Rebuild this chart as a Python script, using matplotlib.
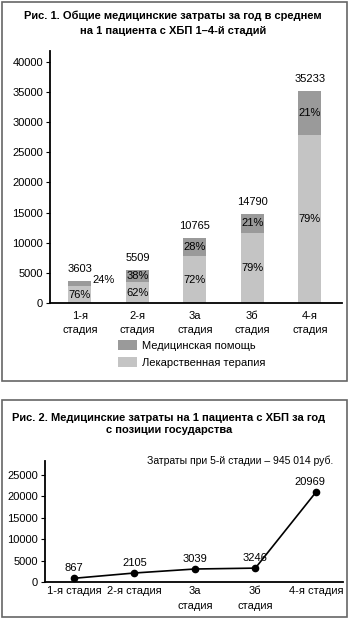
"""Two-panel cost figure: stacked bars by CKD stage and per-patient state costs."""

import matplotlib
matplotlib.use("Agg")
import matplotlib.pyplot as plt
from matplotlib.patches import Rectangle

# Fig. 1: total yearly medical costs per patient, by stage
STAGES_1 = ["1-я\nстадия", "2-я\nстадия", "3а\nстадия", "3б\nстадия", "4-я\nстадия"]
TOTALS = [3603, 5509, 10765, 14790, 35233]
DRUG_PCT = [76, 62, 72, 79, 79]
CARE_PCT = [24, 38, 28, 21, 21]

# Fig. 2: state costs per patient per year
STAGES_2 = ["1-я стадия", "2-я стадия", "3а\nстадия", "3б\nстадия", "4-я стадия"]
STATE_COST = [867, 2105, 3039, 3246, 20969]

DARK = "#9a9a9a"
LIGHT = "#c4c4c4"
W, H = 350, 620


def fx(px):
    return px / W


def fy(py):
    return 1 - py / H


def style_axes(ax):
    ax.spines["top"].set_visible(False)
    ax.spines["right"].set_visible(False)
    ax.spines["left"].set_linewidth(1.3)
    ax.spines["bottom"].set_linewidth(1.3)
    ax.tick_params(axis="x", length=0, labelsize=8)
    ax.tick_params(axis="y", length=3, width=0.8, labelsize=8, pad=2)


def plot_bars(fig):
    ax = fig.add_axes([fx(50), fy(303), fx(292), (303 - 51) / H])
    x = list(range(len(STAGES_1)))
    drug = [t * p / 100 for t, p in zip(TOTALS, DRUG_PCT)]
    care = [t - d for t, d in zip(TOTALS, drug)]

    b_care = ax.bar(x, care, bottom=drug, width=0.4, color=DARK, label="Медицинская помощь")
    b_drug = ax.bar(x, drug, width=0.4, color=LIGHT, label="Лекарственная терапия")

    for i in x:
        ax.annotate(str(TOTALS[i]), (i, TOTALS[i]), xytext=(0, 8.5),
                    textcoords="offset points", ha="center", va="center", fontsize=8)
        ax.text(i, drug[i] / 2, f"{DRUG_PCT[i]}%", ha="center", va="center", fontsize=8)
        if i == 0:
            # the first bar is too short, so its upper share sits beside it
            ax.annotate(f"{CARE_PCT[i]}%", (i + 0.42, drug[i] + care[i] / 2),
                        xytext=(0, 3), textcoords="offset points",
                        ha="center", va="center", fontsize=8)
        else:
            ax.text(i, drug[i] + care[i] / 2, f"{CARE_PCT[i]}%",
                    ha="center", va="center", fontsize=8)

    ax.set_xlim(-0.52, 4.56)
    ax.set_ylim(0, 41800)
    ax.set_yticks(range(0, 40001, 5000))
    ax.set_xticks(x)
    ax.set_xticklabels(STAGES_1, linespacing=1.4)
    style_axes(ax)
    ax.tick_params(axis="x", pad=6)

    ax.legend(handles=[b_care, b_drug], loc="upper left",
              bbox_to_anchor=(fx(118), fy(340)), bbox_transform=fig.transFigure,
              frameon=False, fontsize=8, borderpad=0, borderaxespad=0,
              handlelength=1.7, handleheight=1.0, handletextpad=0.5,
              labelspacing=0.55)


def plot_line(fig):
    ax = fig.add_axes([fx(45), fy(582), fx(298), (582 - 461) / H])
    x = list(range(len(STAGES_2)))
    ax.plot(x, STATE_COST, color="black", linewidth=1.2, marker="o", markersize=4.5)
    for i, v in enumerate(STATE_COST):
        dx = -4 if i == len(STATE_COST) - 1 else 0
        ax.annotate(str(v), (i, v), xytext=(dx, 7.5), textcoords="offset points",
                    ha="center", va="center", fontsize=8)

    ax.set_xlim(-0.48, 4.45)
    ax.set_ylim(0, 28300)
    ax.set_yticks(range(0, 25001, 5000))
    ax.set_xticks(x)
    ax.set_xticklabels(STAGES_2, linespacing=1.6)
    style_axes(ax)
    ax.tick_params(axis="x", pad=3)


def main():
    plt.rcParams.update({
        "font.family": ["Liberation Sans", "DejaVu Sans"],
        "font.size": 8,
        "figure.facecolor": "white",
    })
    fig = plt.figure(figsize=(W / 100, H / 100), dpi=100)

    # panel frames
    for top, bottom in ((2, 381), (400, 617)):
        fig.add_artist(Rectangle((fx(2), fy(bottom)), fx(345), (bottom - top) / H,
                                 transform=fig.transFigure, fill=False,
                                 edgecolor="#666666", linewidth=1.2))

    fig.text(fx(173), fy(23), "Рис. 1. Общие медицинские затраты за год в среднем\n"
             "на 1 пациента с ХБП 1–4-й стадий", ha="center", va="center",
             fontsize=8, fontweight="bold", linespacing=1.65)
    fig.text(fx(169), fy(424), "Рис. 2. Медицинские затраты на 1 пациента с ХБП за год\n"
             "с позиции государства", ha="center", va="center",
             fontsize=8, fontweight="bold", linespacing=1.35)
    fig.text(fx(333), fy(461), "Затраты при 5-й стадии – 945 014 руб.",
             ha="right", va="center", fontsize=7.5)

    plot_bars(fig)
    plot_line(fig)

    fig.savefig("out.png", dpi=100)
    plt.close(fig)


if __name__ == "__main__":
    main()
